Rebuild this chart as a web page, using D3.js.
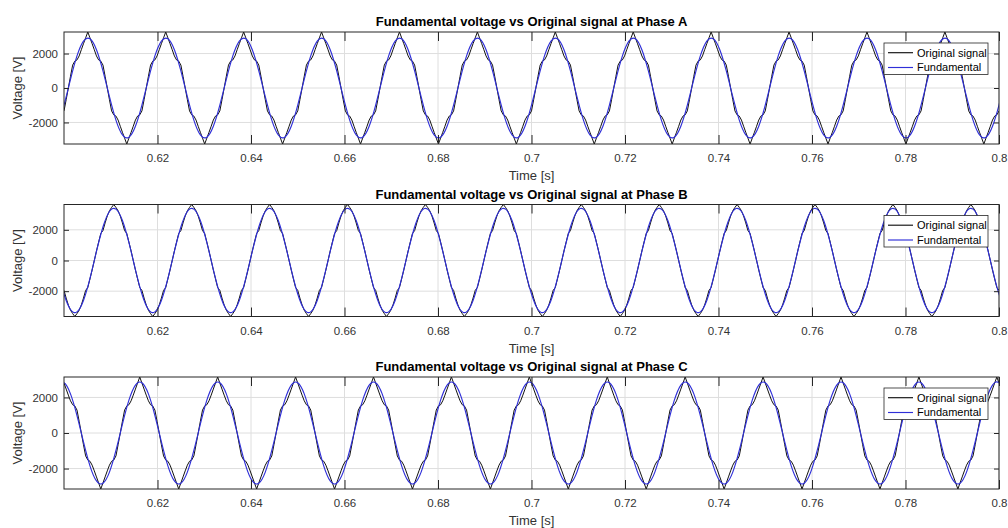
<!DOCTYPE html>
<html><head><meta charset="utf-8">
<script src="https://cdn.jsdelivr.net/npm/d3@7"></script>
<style>
body{margin:0;background:#fff;}
svg{display:block;font-family:"Liberation Sans",Arial,Helvetica,sans-serif;}
</style>
</head><body>
<svg id="chart" width="1008" height="528"></svg>
<script>
// ---------------- DATA ----------------
const panelTitles = [
  "Fundamental voltage vs Original signal at Phase A",
  "Fundamental voltage vs Original signal at Phase B",
  "Fundamental voltage vs Original signal at Phase C"
];
const legendLabels = ["Original signal", "Fundamental"];
const xLabel = "Time [s]";
const yLabel = "Voltage [V]";
const timeRange = [0.6, 0.8];
const xTickValues = [0.62, 0.64, 0.66, 0.68, 0.7, 0.72, 0.74, 0.76, 0.78, 0.8];
const xTickLabels = ["0.62", "0.64", "0.66", "0.68", "0.7", "0.72", "0.74", "0.76", "0.78", "0.8"];
const yTickValues = [-2000, 0, 2000];
const yTickLabels = ["-2000", "0", "2000"];
const yLimits = [[-3250, 3250], [-3650, 3650], [-3150, 3150]];

// sample clocks (uniform sampling of the recorded signals)
const originalStart = 0.6, originalStep = 1 / 2160;
const fundamentalStart = 0.6 - 1 / 720, fundamentalStep = 1 / 720;

// Original (stepped) signal samples, volts
const originalA = [
-1330,-680,0,680,1330,1560,1630,1860,2220,2570,2910,3250,2910,2570,2220,1860,1630,1560,1330,680,0,-680,-1330,-1560,-1630,-1860,-2220,-2570,-2910,-3250,-2910,-2570,-2220,-1860,-1630,-1560,
-1330,-680,0,680,1330,1560,1630,1860,2220,2570,2910,3250,2910,2570,2220,1860,1630,1560,1330,680,0,-680,-1330,-1560,-1630,-1860,-2220,-2570,-2910,-3250,-2910,-2570,-2220,-1860,-1630,-1560,
-1330,-680,0,680,1330,1560,1630,1860,2220,2570,2910,3250,2910,2570,2220,1860,1630,1560,1330,680,0,-680,-1330,-1560,-1630,-1860,-2220,-2570,-2910,-3250,-2910,-2570,-2220,-1860,-1630,-1560,
-1330,-680,0,680,1330,1560,1630,1860,2220,2570,2910,3250,2910,2570,2220,1860,1630,1560,1330,680,0,-680,-1330,-1560,-1630,-1860,-2220,-2570,-2910,-3250,-2910,-2570,-2220,-1860,-1630,-1560,
-1330,-680,0,680,1330,1560,1630,1860,2220,2570,2910,3250,2910,2570,2220,1860,1630,1560,1330,680,0,-680,-1330,-1560,-1630,-1860,-2220,-2570,-2910,-3250,-2910,-2570,-2220,-1860,-1630,-1560,
-1330,-680,0,680,1330,1560,1630,1860,2220,2570,2910,3250,2910,2570,2220,1860,1630,1560,1330,680,0,-680,-1330,-1560,-1630,-1860,-2220,-2570,-2910,-3250,-2910,-2570,-2220,-1860,-1630,-1560,
-1330,-680,0,680,1330,1560,1630,1860,2220,2570,2910,3250,2910,2570,2220,1860,1630,1560,1330,680,0,-680,-1330,-1560,-1630,-1860,-2220,-2570,-2910,-3250,-2910,-2570,-2220,-1860,-1630,-1560,
-1330,-680,0,680,1330,1560,1630,1860,2220,2570,2910,3250,2910,2570,2220,1860,1630,1560,1330,680,0,-680,-1330,-1560,-1630,-1860,-2220,-2570,-2910,-3250,-2910,-2570,-2220,-1860,-1630,-1560,
-1330,-680,0,680,1330,1560,1630,1860,2220,2570,2910,3250,2910,2570,2220,1860,1630,1560,1330,680,0,-680,-1330,-1560,-1630,-1860,-2220,-2570,-2910,-3250,-2910,-2570,-2220,-1860,-1630,-1560,
-1330,-680,0,680,1330,1560,1630,1860,2220,2570,2910,3250,2910,2570,2220,1860,1630,1560,1330,680,0,-680,-1330,-1560,-1630,-1860,-2220,-2570,-2910,-3250,-2910,-2570,-2220,-1860,-1630,-1560,
-1330,-680,0,680,1330,1560,1630,1860,2220,2570,2910,3250,2910,2570,2220,1860,1630,1560,1330,680,0,-680,-1330,-1560,-1630,-1860,-2220,-2570,-2910,-3250,-2910,-2570,-2220,-1860,-1630,-1560,
-1330,-680,0,680,1330,1560,1630,1860,2220,2570,2910,3250,2910,2570,2220,1860,1630,1560,1330,680,0,-680,-1330,-1560,-1630,-1860,-2220,-2570,-2910,-3250,-2910,-2570,-2220,-1860,-1630,-1560,
-1330];
const originalB = [
-1950,-2450,-2900,-3240,-3460,-3650,-3460,-3240,-2900,-2450,-1950,-1760,-1200,-620,0,620,1200,1760,1950,2450,2900,3240,3460,3650,3460,3240,2900,2450,1950,1760,1200,620,0,-620,-1200,-1760,
-1950,-2450,-2900,-3240,-3460,-3650,-3460,-3240,-2900,-2450,-1950,-1760,-1200,-620,0,620,1200,1760,1950,2450,2900,3240,3460,3650,3460,3240,2900,2450,1950,1760,1200,620,0,-620,-1200,-1760,
-1950,-2450,-2900,-3240,-3460,-3650,-3460,-3240,-2900,-2450,-1950,-1760,-1200,-620,0,620,1200,1760,1950,2450,2900,3240,3460,3650,3460,3240,2900,2450,1950,1760,1200,620,0,-620,-1200,-1760,
-1950,-2450,-2900,-3240,-3460,-3650,-3460,-3240,-2900,-2450,-1950,-1760,-1200,-620,0,620,1200,1760,1950,2450,2900,3240,3460,3650,3460,3240,2900,2450,1950,1760,1200,620,0,-620,-1200,-1760,
-1950,-2450,-2900,-3240,-3460,-3650,-3460,-3240,-2900,-2450,-1950,-1760,-1200,-620,0,620,1200,1760,1950,2450,2900,3240,3460,3650,3460,3240,2900,2450,1950,1760,1200,620,0,-620,-1200,-1760,
-1950,-2450,-2900,-3240,-3460,-3650,-3460,-3240,-2900,-2450,-1950,-1760,-1200,-620,0,620,1200,1760,1950,2450,2900,3240,3460,3650,3460,3240,2900,2450,1950,1760,1200,620,0,-620,-1200,-1760,
-1950,-2450,-2900,-3240,-3460,-3650,-3460,-3240,-2900,-2450,-1950,-1760,-1200,-620,0,620,1200,1760,1950,2450,2900,3240,3460,3650,3460,3240,2900,2450,1950,1760,1200,620,0,-620,-1200,-1760,
-1950,-2450,-2900,-3240,-3460,-3650,-3460,-3240,-2900,-2450,-1950,-1760,-1200,-620,0,620,1200,1760,1950,2450,2900,3240,3460,3650,3460,3240,2900,2450,1950,1760,1200,620,0,-620,-1200,-1760,
-1950,-2450,-2900,-3240,-3460,-3650,-3460,-3240,-2900,-2450,-1950,-1760,-1200,-620,0,620,1200,1760,1950,2450,2900,3240,3460,3650,3460,3240,2900,2450,1950,1760,1200,620,0,-620,-1200,-1760,
-1950,-2450,-2900,-3240,-3460,-3650,-3460,-3240,-2900,-2450,-1950,-1760,-1200,-620,0,620,1200,1760,1950,2450,2900,3240,3460,3650,3460,3240,2900,2450,1950,1760,1200,620,0,-620,-1200,-1760,
-1950,-2450,-2900,-3240,-3460,-3650,-3460,-3240,-2900,-2450,-1950,-1760,-1200,-620,0,620,1200,1760,1950,2450,2900,3240,3460,3650,3460,3240,2900,2450,1950,1760,1200,620,0,-620,-1200,-1760,
-1950,-2450,-2900,-3240,-3460,-3650,-3460,-3240,-2900,-2450,-1950,-1760,-1200,-620,0,620,1200,1760,1950,2450,2900,3240,3460,3650,3460,3240,2900,2450,1950,1760,1200,620,0,-620,-1200,-1760,
-1950];
const originalC = [
2810,2470,2130,1810,1590,1520,1290,660,0,-660,-1290,-1520,-1590,-1810,-2130,-2470,-2810,-3150,-2810,-2470,-2130,-1810,-1590,-1520,-1290,-660,0,660,1290,1520,1590,1810,2130,2470,2810,3150,
2810,2470,2130,1810,1590,1520,1290,660,0,-660,-1290,-1520,-1590,-1810,-2130,-2470,-2810,-3150,-2810,-2470,-2130,-1810,-1590,-1520,-1290,-660,0,660,1290,1520,1590,1810,2130,2470,2810,3150,
2810,2470,2130,1810,1590,1520,1290,660,0,-660,-1290,-1520,-1590,-1810,-2130,-2470,-2810,-3150,-2810,-2470,-2130,-1810,-1590,-1520,-1290,-660,0,660,1290,1520,1590,1810,2130,2470,2810,3150,
2810,2470,2130,1810,1590,1520,1290,660,0,-660,-1290,-1520,-1590,-1810,-2130,-2470,-2810,-3150,-2810,-2470,-2130,-1810,-1590,-1520,-1290,-660,0,660,1290,1520,1590,1810,2130,2470,2810,3150,
2810,2470,2130,1810,1590,1520,1290,660,0,-660,-1290,-1520,-1590,-1810,-2130,-2470,-2810,-3150,-2810,-2470,-2130,-1810,-1590,-1520,-1290,-660,0,660,1290,1520,1590,1810,2130,2470,2810,3150,
2810,2470,2130,1810,1590,1520,1290,660,0,-660,-1290,-1520,-1590,-1810,-2130,-2470,-2810,-3150,-2810,-2470,-2130,-1810,-1590,-1520,-1290,-660,0,660,1290,1520,1590,1810,2130,2470,2810,3150,
2810,2470,2130,1810,1590,1520,1290,660,0,-660,-1290,-1520,-1590,-1810,-2130,-2470,-2810,-3150,-2810,-2470,-2130,-1810,-1590,-1520,-1290,-660,0,660,1290,1520,1590,1810,2130,2470,2810,3150,
2810,2470,2130,1810,1590,1520,1290,660,0,-660,-1290,-1520,-1590,-1810,-2130,-2470,-2810,-3150,-2810,-2470,-2130,-1810,-1590,-1520,-1290,-660,0,660,1290,1520,1590,1810,2130,2470,2810,3150,
2810,2470,2130,1810,1590,1520,1290,660,0,-660,-1290,-1520,-1590,-1810,-2130,-2470,-2810,-3150,-2810,-2470,-2130,-1810,-1590,-1520,-1290,-660,0,660,1290,1520,1590,1810,2130,2470,2810,3150,
2810,2470,2130,1810,1590,1520,1290,660,0,-660,-1290,-1520,-1590,-1810,-2130,-2470,-2810,-3150,-2810,-2470,-2130,-1810,-1590,-1520,-1290,-660,0,660,1290,1520,1590,1810,2130,2470,2810,3150,
2810,2470,2130,1810,1590,1520,1290,660,0,-660,-1290,-1520,-1590,-1810,-2130,-2470,-2810,-3150,-2810,-2470,-2130,-1810,-1590,-1520,-1290,-660,0,660,1290,1520,1590,1810,2130,2470,2810,3150,
2810,2470,2130,1810,1590,1520,1290,660,0,-660,-1290,-1520,-1590,-1810,-2130,-2470,-2810,-3150,-2810,-2470,-2130,-1810,-1590,-1520,-1290,-660,0,660,1290,1520,1590,1810,2130,2470,2810,3150,
2810];

// Fundamental component samples, volts
const fundamentalA = [
-2222,-992,504,1864,2725,2856,2222,992,-504,-1864,-2725,-2856,
-2222,-992,504,1864,2725,2856,2222,992,-504,-1864,-2725,-2856,
-2222,-992,504,1864,2725,2856,2222,992,-504,-1864,-2725,-2856,
-2222,-992,504,1864,2725,2856,2222,992,-504,-1864,-2725,-2856,
-2222,-992,504,1864,2725,2856,2222,992,-504,-1864,-2725,-2856,
-2222,-992,504,1864,2725,2856,2222,992,-504,-1864,-2725,-2856,
-2222,-992,504,1864,2725,2856,2222,992,-504,-1864,-2725,-2856,
-2222,-992,504,1864,2725,2856,2222,992,-504,-1864,-2725,-2856,
-2222,-992,504,1864,2725,2856,2222,992,-504,-1864,-2725,-2856,
-2222,-992,504,1864,2725,2856,2222,992,-504,-1864,-2725,-2856,
-2222,-992,504,1864,2725,2856,2222,992,-504,-1864,-2725,-2856,
-2222,-992,504,1864,2725,2856,2222,992,-504,-1864,-2725,-2856,
-2222,-992,504];
const fundamentalB = [
-590,-2185,-3195,-3348,-2605,-1163,590,2185,3195,3348,2605,1163,
-590,-2185,-3195,-3348,-2605,-1163,590,2185,3195,3348,2605,1163,
-590,-2185,-3195,-3348,-2605,-1163,590,2185,3195,3348,2605,1163,
-590,-2185,-3195,-3348,-2605,-1163,590,2185,3195,3348,2605,1163,
-590,-2185,-3195,-3348,-2605,-1163,590,2185,3195,3348,2605,1163,
-590,-2185,-3195,-3348,-2605,-1163,590,2185,3195,3348,2605,1163,
-590,-2185,-3195,-3348,-2605,-1163,590,2185,3195,3348,2605,1163,
-590,-2185,-3195,-3348,-2605,-1163,590,2185,3195,3348,2605,1163,
-590,-2185,-3195,-3348,-2605,-1163,590,2185,3195,3348,2605,1163,
-590,-2185,-3195,-3348,-2605,-1163,590,2185,3195,3348,2605,1163,
-590,-2185,-3195,-3348,-2605,-1163,590,2185,3195,3348,2605,1163,
-590,-2185,-3195,-3348,-2605,-1163,590,2185,3195,3348,2605,1163,
-590,-2185,-3195];
const fundamentalC = [
2697,2826,2199,982,-498,-1845,-2697,-2826,-2199,-982,498,1845,
2697,2826,2199,982,-498,-1845,-2697,-2826,-2199,-982,498,1845,
2697,2826,2199,982,-498,-1845,-2697,-2826,-2199,-982,498,1845,
2697,2826,2199,982,-498,-1845,-2697,-2826,-2199,-982,498,1845,
2697,2826,2199,982,-498,-1845,-2697,-2826,-2199,-982,498,1845,
2697,2826,2199,982,-498,-1845,-2697,-2826,-2199,-982,498,1845,
2697,2826,2199,982,-498,-1845,-2697,-2826,-2199,-982,498,1845,
2697,2826,2199,982,-498,-1845,-2697,-2826,-2199,-982,498,1845,
2697,2826,2199,982,-498,-1845,-2697,-2826,-2199,-982,498,1845,
2697,2826,2199,982,-498,-1845,-2697,-2826,-2199,-982,498,1845,
2697,2826,2199,982,-498,-1845,-2697,-2826,-2199,-982,498,1845,
2697,2826,2199,982,-498,-1845,-2697,-2826,-2199,-982,498,1845,
2697,2826,2199];

const originals = [originalA, originalB, originalC];
const fundamentals = [fundamentalA, fundamentalB, fundamentalC];

// ---------------- LAYOUT ----------------
const svg = d3.select("#chart");
const plotLeft = 64, plotRight = 999, plotH = 112;
const panelTops = [32, 204.5, 377];
const axisColor = "#262626";
const gridColor = "#dedede";
const originalColor = "#111111";
const fundamentalColor = "#2f2fd8";

const x = d3.scaleLinear().domain(timeRange).range([plotLeft, plotRight]);

svg.append("rect").attr("width", 1008).attr("height", 528).attr("fill", "#fff");

panelTops.forEach((top, p) => {
  const bottom = top + plotH;
  const y = d3.scaleLinear().domain(yLimits[p]).range([bottom, top]);
  const g = svg.append("g");

  const clipId = "clip" + p;
  svg.append("defs").append("clipPath").attr("id", clipId)
    .append("rect").attr("x", plotLeft).attr("y", top)
    .attr("width", plotRight - plotLeft).attr("height", plotH);

  // grid
  g.append("g").selectAll("line").data(xTickValues).join("line")
    .attr("x1", d => x(d)).attr("x2", d => x(d))
    .attr("y1", top).attr("y2", bottom)
    .attr("stroke", gridColor).attr("stroke-width", 1);
  g.append("g").selectAll("line").data(yTickValues).join("line")
    .attr("x1", plotLeft).attr("x2", plotRight)
    .attr("y1", d => y(d)).attr("y2", d => y(d))
    .attr("stroke", gridColor).attr("stroke-width", 1);

  // data
  const origPts = originals[p].map((v, i) => [originalStart + i * originalStep, v]);
  const fundPts = fundamentals[p].map((v, i) => [fundamentalStart + i * fundamentalStep, v]);
  const lineLin = d3.line().x(d => x(d[0])).y(d => y(d[1]));
  const lineSmooth = d3.line().x(d => x(d[0])).y(d => y(d[1])).curve(d3.curveNatural);

  const dg = g.append("g").attr("clip-path", `url(#${clipId})`);
  dg.append("path").datum(origPts).attr("d", lineLin)
    .attr("fill", "none").attr("stroke", originalColor).attr("stroke-width", 1);
  dg.append("path").datum(fundPts).attr("d", lineSmooth)
    .attr("fill", "none").attr("stroke", fundamentalColor).attr("stroke-width", 1.15);

  // axes
  const fmtX = d => xTickLabels[xTickValues.indexOf(d)];
  const fmtY = d => yTickLabels[yTickValues.indexOf(d)];
  const ab = g.append("g").attr("transform", `translate(0,${bottom})`)
    .call(d3.axisBottom(x).tickValues(xTickValues).tickFormat(fmtX).tickSize(-9).tickSizeOuter(0).tickPadding(10));
  const at = g.append("g").attr("transform", `translate(0,${top})`)
    .call(d3.axisTop(x).tickValues(xTickValues).tickFormat("").tickSize(-9).tickSizeOuter(0));
  const al = g.append("g").attr("transform", `translate(${plotLeft},0)`)
    .call(d3.axisLeft(y).tickValues(yTickValues).tickFormat(fmtY).tickSize(-5).tickSizeOuter(0).tickPadding(6));
  const ar = g.append("g").attr("transform", `translate(${plotRight},0)`)
    .call(d3.axisRight(y).tickValues(yTickValues).tickFormat("").tickSize(-5).tickSizeOuter(0));
  [ab, at, al, ar].forEach(a => {
    a.select(".domain").remove();
    a.selectAll(".tick line").attr("stroke", axisColor);
    a.selectAll(".tick text").attr("fill", "#333").style("font-size", "11.5px")
      .style("font-family", '"Liberation Sans",Arial,sans-serif');
  });

  // box
  g.append("rect").attr("x", plotLeft).attr("y", top)
    .attr("width", plotRight - plotLeft).attr("height", plotH)
    .attr("fill", "none").attr("stroke", axisColor).attr("stroke-width", 1);

  // title
  g.append("text").attr("x", (plotLeft + plotRight) / 2).attr("y", top - 6)
    .attr("text-anchor", "middle").style("font-size", "13px").style("font-weight", "bold")
    .attr("fill", "#000").text(panelTitles[p]);

  // x label
  g.append("text").attr("x", (plotLeft + plotRight) / 2).attr("y", bottom + 36)
    .attr("text-anchor", "middle").style("font-size", "13px").attr("fill", "#333").text(xLabel);

  // y label
  g.append("text").attr("transform", `translate(22,${(top + bottom) / 2}) rotate(-90)`)
    .attr("text-anchor", "middle").style("font-size", "13px").attr("fill", "#333").text(yLabel);

  // legend
  const lx = 884, ly = top + 11, lw = 104, lh = 31.5;
  const lg = g.append("g");
  lg.append("rect").attr("x", lx).attr("y", ly).attr("width", lw).attr("height", lh)
    .attr("fill", "#fff").attr("stroke", axisColor).attr("stroke-width", 0.8);
  const itemY = [ly + 9.7, ly + 24.5];
  const itemColors = [originalColor, fundamentalColor];
  legendLabels.forEach((lab, k) => {
    lg.append("line").attr("x1", lx + 4).attr("x2", lx + 29)
      .attr("y1", itemY[k]).attr("y2", itemY[k])
      .attr("stroke", itemColors[k]).attr("stroke-width", 1.15);
    lg.append("text").attr("x", lx + 33).attr("y", itemY[k]).attr("dy", "0.35em")
      .style("font-size", "11px").attr("fill", "#000").text(lab);
  });
});
</script>
</body></html>
